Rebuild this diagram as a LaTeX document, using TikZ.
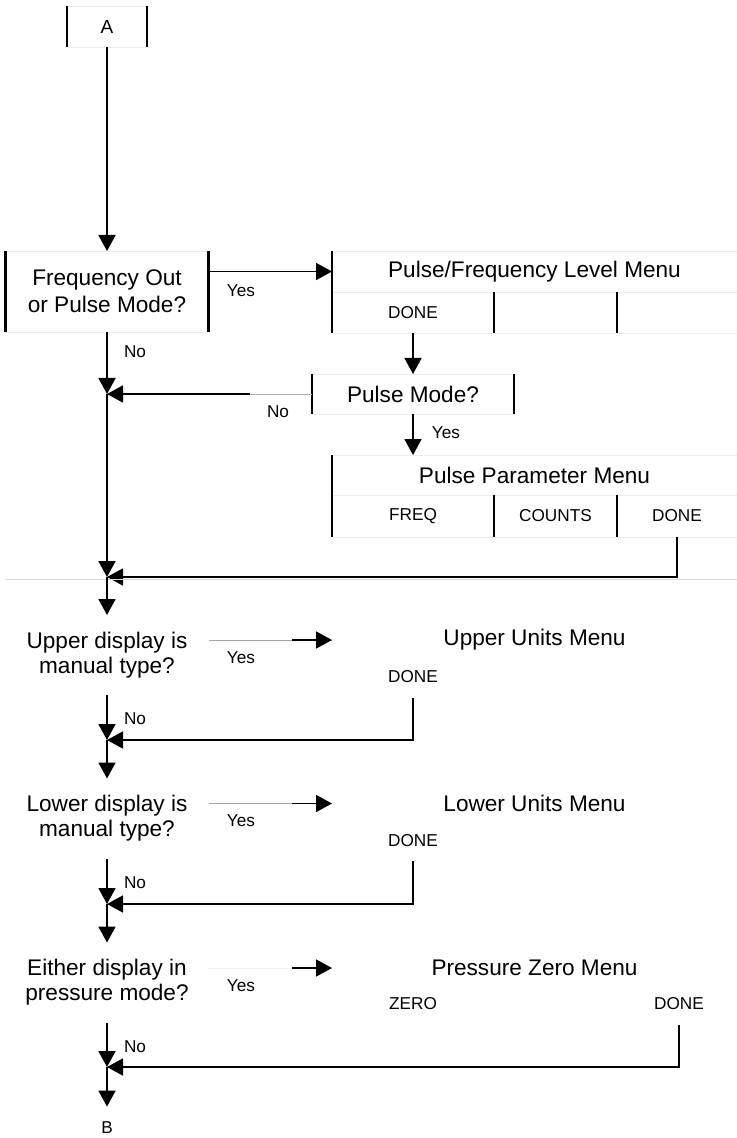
\documentclass[tikz,border=0pt]{standalone}
\usepackage{fontspec}
\setmainfont{Liberation Sans}
\usetikzlibrary{arrows.meta, positioning}

\tikzset{
  bigtext/.style={font=\fontsize{11.3}{13.5}\selectfont},
  smalltext/.style={font=\fontsize{8.6}{10}\selectfont},
  boxed/.style={draw=gray!15, line width=0.4pt},
  menutitle/.style={bigtext, minimum width=202.5pt, minimum height=20.5pt, inner sep=0pt, outer sep=0pt},
  cell/.style={smalltext, minimum height=20.5pt, inner sep=0pt, outer sep=0pt},
  cellone/.style={cell, minimum width=81pt},
  celltwo/.style={cell, minimum width=61.5pt},
  cellthree/.style={cell, minimum width=60pt},
  question/.style={bigtext, align=center, minimum width=101.5pt, minimum height=40pt, inner sep=0pt, outer sep=0pt},
  bar/.style={line width=1.2pt},
  flow/.style={->, line width=0.9pt},
  lead/.style={line width=0.4pt},
  divider/.style={gray!30, line width=0.5pt}
}

\begin{document}
\begin{tikzpicture}[x=0.5pt, y=-0.5pt, >={Triangle[length=8pt,width=8.5pt]}]
  \useasboundingbox (0,0) rectangle (737,1138);

  % entry point
  \node[cell, boxed, minimum width=40pt, font=\fontsize{9.5}{10}\selectfont] (a) at (107,26.5) {A};
  \draw[bar] (a.north west) -- (a.south west) (a.north east) -- (a.south east);

  % frequency out / pulse mode
  \node[question, boxed, minimum height=40.5pt] (freq) at (107,291.5) {Frequency Out\\or Pulse Mode?};
  \draw[bar] (freq.north west) -- (freq.south west) (freq.north east) -- (freq.south east);

  \node[menutitle, boxed] (pfl) at (534.5,271.5) {Pulse/Frequency Level Menu};
  \node[cellone, boxed, below right=0pt of pfl.south west] (pf1) {DONE};
  \node[celltwo, boxed, right=0pt of pf1] (pf2) {};
  \node[cellthree, boxed, right=0pt of pf2] (pf3) {};
  \draw[bar] (pfl.north west) -- (pf1.south west) (pf2.north west) -- (pf2.south west) (pf3.north west) -- (pf3.south west);

  \node[menutitle, boxed, minimum width=101pt, minimum height=20pt, below=20.5pt of pf1] (pmode) {Pulse Mode?};
  \draw[bar] (pmode.north west) -- (pmode.south west) (pmode.north east) -- (pmode.south east);

  \node[menutitle, boxed, minimum height=20pt] (ppt) at (534.5,475) {Pulse Parameter Menu};
  \node[cellone, boxed, minimum height=21pt, below right=0pt of ppt.south west] (pp1) {FREQ};
  \node[celltwo, boxed, minimum height=21pt, right=0pt of pp1] (pp2) {COUNTS};
  \node[cellthree, boxed, minimum height=21pt, right=0pt of pp2] (pp3) {DONE};
  \draw[bar] (ppt.north west) -- (pp1.south west) (pp2.north west) -- (pp2.south west) (pp3.north west) -- (pp3.south west);

  \coordinate (j1) at (freq.south |- pmode.west);
  \coordinate (j2) at (107,577);

  \draw[flow] (a.south) -- (freq.north);
  \draw[lead] (freq.east |- pfl.west) -- (pfl.west);
  \draw[flow] ([xshift=-20.5pt]pfl.west) -- (pfl.west);
  \node[smalltext] (y1) at (241,291) {Yes};
  \draw[flow] (freq.south) -- (j1);
  \node[smalltext] (n1) at (135,352) {No};
  \draw[flow] (pf1.south) -- (pmode.north);
  \draw[lead, gray!60] ([xshift=-31pt]pmode.west) -- (pmode.west);
  \draw[flow] ([xshift=-31pt]pmode.west) -- (j1);
  \node[smalltext] (n2) at (278,412) {No};
  \draw[flow] (pmode.south) -- (pmode.south |- ppt.north);
  \node[smalltext] (y2) at (446,433) {Yes};
  \draw[flow] (j1) -- (j2);
  \draw[flow] (pp3.south) |- (j2);
  \draw[divider] (5,579) -- (737,579);

  % upper display units
  \node[question, font=\fontsize{11.3}{12.5}\selectfont] (upq) at (107,655) {Upper display is\\manual type?};
  \node[menutitle] (upm) at (534.5,640) {Upper Units Menu};
  \node[cellone] (upd) at (413,677) {DONE};
  \coordinate (j3) at (107,740);
  \draw[flow] (j2) -- (upq.north);
  \draw[lead, gray!70] (upq.east |- upm.west) -- (upm.west);
  \draw[flow] ([xshift=-20pt]upm.west) -- (upm.west);
  \node[smalltext] (y3) at (241,658) {Yes};
  \draw[flow] (upq.south) -- (j3);
  \draw[flow] (upd.south) |- (j3);
  \node[smalltext] (n3) at (135,719) {No};

  % lower display units
  \node[question, font=\fontsize{11.3}{12.5}\selectfont] (lwq) at (107,818.5) {Lower display is\\manual type?};
  \node[menutitle] (lwm) at (534.5,803.5) {Lower Units Menu};
  \node[cellone] (lwd) at (413,840.5) {DONE};
  \coordinate (j4) at (107,904);
  \draw[flow] (j3) -- (lwq.north);
  \draw[lead, gray!70] (lwq.east |- lwm.west) -- (lwm.west);
  \draw[flow] ([xshift=-20pt]lwm.west) -- (lwm.west);
  \node[smalltext] (y4) at (241,821) {Yes};
  \draw[flow] (lwq.south) -- (j4);
  \draw[flow] (lwd.south) |- (j4);
  \node[smalltext] (n4) at (135,883) {No};

  % pressure zero
  \node[question, font=\fontsize{11.3}{12.5}\selectfont] (pzq) at (107,982.5) {Either display in\\pressure mode?};
  \node[menutitle] (pzm) at (534.5,968) {Pressure Zero Menu};
  \node[cellone] (pz1) at (413,1004) {ZERO};
  \node[cellthree] (pz3) at (679,1004) {DONE};
  \coordinate (j5) at (107,1067);
  \draw[flow] (j4) -- (pzq.north);
  \draw[lead, gray!10] (pzq.east |- pzm.west) -- (pzm.west);
  \draw[flow] ([xshift=-20pt]pzm.west) -- (pzm.west);
  \node[smalltext] (y5) at (241,986) {Yes};
  \draw[flow] (pzq.south) -- (j5);
  \draw[flow] (pz3.south) |- (j5);
  \node[smalltext] (n5) at (135,1047) {No};

  \node[smalltext, minimum height=21pt] (b) at (107,1128) {B};
  \draw[flow] (j5) -- (b);
\end{tikzpicture}
\end{document}
